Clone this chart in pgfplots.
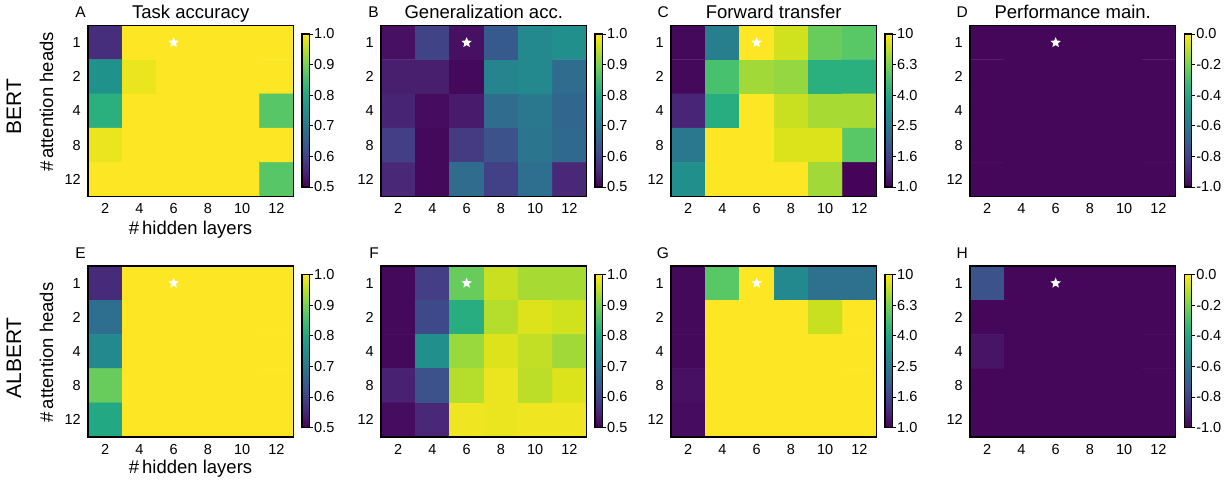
\documentclass[border=0pt]{standalone}
\usepackage{fontspec}
\setmainfont{Liberation Sans}
\usepackage{pgfplots}
\pgfplotsset{compat=1.18}
\usepackage{pgfplotstable}

\pgfdeclareplotmark{fstar}{%
  \pgfpathmoveto{\pgfpointpolar{90}{\pgfplotmarksize}}%
  \pgfpathlineto{\pgfpointpolar{126}{0.45\pgfplotmarksize}}%
  \pgfpathlineto{\pgfpointpolar{162}{\pgfplotmarksize}}%
  \pgfpathlineto{\pgfpointpolar{198}{0.45\pgfplotmarksize}}%
  \pgfpathlineto{\pgfpointpolar{234}{\pgfplotmarksize}}%
  \pgfpathlineto{\pgfpointpolar{270}{0.45\pgfplotmarksize}}%
  \pgfpathlineto{\pgfpointpolar{306}{\pgfplotmarksize}}%
  \pgfpathlineto{\pgfpointpolar{342}{0.45\pgfplotmarksize}}%
  \pgfpathlineto{\pgfpointpolar{18}{\pgfplotmarksize}}%
  \pgfpathlineto{\pgfpointpolar{54}{0.45\pgfplotmarksize}}%
  \pgfpathclose\pgfusepathqfill}

% heads 1,2,4,8,12 -> y = 0..4 ; hidden layers 2..12
\pgfplotstableread{
x y c
2 0 0.565
4 0 1
6 0 1
8 0 1
10 0 1
12 0 1
2 1 0.755
4 1 0.985
6 1 1
8 1 1
10 1 1
12 1 1
2 2 0.815
4 2 1
6 2 1
8 2 1
10 2 1
12 2 0.868
2 3 0.985
4 3 1
6 3 1
8 3 1
10 3 1
12 3 1
2 4 1
4 4 1
6 4 1
8 4 1
10 4 1
12 4 0.868
}\tA
\pgfplotstableread{
x y c
2 0 0.52
4 0 0.60
6 0 0.52
8 0 0.64
10 0 0.735
12 0 0.75
2 1 0.54
4 1 0.54
6 1 0.51
8 1 0.725
10 1 0.735
12 1 0.675
2 2 0.55
4 2 0.515
6 2 0.535
8 2 0.675
10 2 0.70
12 2 0.665
2 3 0.59
4 3 0.51
6 3 0.585
8 3 0.625
10 3 0.695
12 3 0.67
2 4 0.555
4 4 0.51
6 4 0.675
8 4 0.595
10 4 0.68
12 4 0.555
}\tB
\pgfplotstableread{
x y c
2 0 1.05
4 0 2.69
6 0 10
8 0 8.51
10 0 5.89
12 0 5.50
2 1 1.05
4 1 5.13
6 1 7.24
8 1 6.92
10 1 4.27
12 1 4.27
2 2 1.26
4 2 4.17
6 2 10
8 2 8.32
10 2 7.41
12 2 7.41
2 3 2.51
4 3 10
6 3 10
8 3 8.91
10 3 8.91
12 3 5.50
2 4 3.16
4 4 10
6 4 10
8 4 10
10 4 7.24
12 4 1.02
}\tC
\pgfplotstableread{
x y c
2 0 -0.985
4 0 -0.985
6 0 -0.985
8 0 -0.985
10 0 -0.985
12 0 -0.985
2 1 -0.985
4 1 -0.985
6 1 -0.985
8 1 -0.985
10 1 -0.985
12 1 -0.985
2 2 -0.985
4 2 -0.985
6 2 -0.985
8 2 -0.985
10 2 -0.985
12 2 -0.985
2 3 -0.985
4 3 -0.985
6 3 -0.985
8 3 -0.985
10 3 -0.985
12 3 -0.985
2 4 -0.985
4 4 -0.985
6 4 -0.985
8 4 -0.985
10 4 -0.985
12 4 -0.985
}\tD
\pgfplotstableread{
x y c
2 0 0.56
4 0 1
6 0 1
8 0 1
10 0 1
12 0 1
2 1 0.68
4 1 1
6 1 1
8 1 1
10 1 1
12 1 1
2 2 0.735
4 2 1
6 2 1
8 2 1
10 2 1
12 2 1
2 3 0.885
4 3 1
6 3 1
8 3 1
10 3 1
12 3 1
2 4 0.80
4 4 1
6 4 1
8 4 1
10 4 1
12 4 1
}\tE
\pgfplotstableread{
x y c
2 0 0.51
4 0 0.59
6 0 0.885
8 0 0.96
10 0 0.935
12 0 0.935
2 1 0.51
4 1 0.61
6 1 0.81
8 1 0.945
10 1 0.975
12 1 0.965
2 2 0.51
4 2 0.75
6 2 0.925
8 2 0.975
10 2 0.955
12 2 0.93
2 3 0.545
4 3 0.625
6 3 0.945
8 3 0.985
10 3 0.95
12 3 0.975
2 4 0.515
4 4 0.555
6 4 0.99
8 4 0.985
10 4 0.99
12 4 0.99
}\tF
\pgfplotstableread{
x y c
2 0 1.05
4 0 5.50
6 0 10
8 0 2.95
10 0 2.34
12 0 2.34
2 1 1.05
4 1 10
6 1 10
8 1 10
10 1 8.32
12 1 10
2 2 1.05
4 2 10
6 2 10
8 2 10
10 2 10
12 2 10
2 3 1.10
4 3 10
6 3 10
8 3 10
10 3 10
12 3 10
2 4 1.07
4 4 10
6 4 10
8 4 10
10 4 10
12 4 10
}\tG
\pgfplotstableread{
x y c
2 0 -0.75
4 0 -0.985
6 0 -0.985
8 0 -0.985
10 0 -0.985
12 0 -0.985
2 1 -0.985
4 1 -0.985
6 1 -0.985
8 1 -0.985
10 1 -0.985
12 1 -0.985
2 2 -0.95
4 2 -0.985
6 2 -0.985
8 2 -0.985
10 2 -0.985
12 2 -0.985
2 3 -0.985
4 3 -0.985
6 3 -0.985
8 3 -0.985
10 3 -0.985
12 3 -0.985
2 4 -0.985
4 4 -0.985
6 4 -0.985
8 4 -0.985
10 4 -0.985
12 4 -0.985
}\tH

\pgfplotsset{
  hm/.style={
    anchor=south west,
    scale only axis, width=205.5pt, height=171pt,
    xmin=1, xmax=13, ymin=-0.5, ymax=4.5, y dir=reverse,
    xtick={2,4,...,12}, ytick={0,1,2,3,4}, yticklabels={1,2,4,8,12},
    major tick length=0pt,
    clip=false,
    /pgf/number format/assume math mode=true,
    tick label style={font=\fontsize{14.5}{16}\selectfont},
    xticklabel style={anchor=base, inner sep=0pt, yshift=-17pt},
    yticklabel style={anchor=east, inner sep=0pt, xshift=-7pt},
    axis line style={line width=1.3pt, black},
    axis on top,
    colormap/viridis,
    title style={font=\fontsize{18.5}{21}\selectfont, at={(0.5,1)}, anchor=base, yshift=1pt, inner sep=0pt},
    colorbar,
    colorbar style={
      scale only axis, width=7.5pt, height=153pt,
      at={(parent axis.east)}, anchor=west, xshift=0pt, yshift=0.5pt,
      ytick pos=right, tick align=outside, major tick length=3.5pt,
      tick label style={font=\fontsize{14.5}{16}\selectfont},
      yticklabel style={font=\fontsize{14.5}{16}\selectfont, inner sep=0pt, xshift=1pt, anchor=west},
      axis line style={line width=1.1pt, black},
      tick style={black, line width=0.8pt},
    },
  },
  acc/.style={point meta min=0.5, point meta max=1,
    colorbar style={ytick={0.5,0.6,0.7,0.8,0.9,1.0}, yticklabels={0.5,0.6,0.7,0.8,0.9,1.0}}},
  ft/.style={point meta min=0, point meta max=1,
    colorbar style={ytick={0,0.2,0.4,0.6,0.8,1}, yticklabels={1.0,1.6,2.5,4.0,6.3,10}}},
  pm/.style={point meta min=-1, point meta max=0,
    colorbar style={ytick={-1,-0.8,-0.6,-0.4,-0.2,0}, yticklabels={-1.0,-0.8,-0.6,-0.4,-0.2,0.0}}},
  starplot/.style={only marks, mark=fstar, mark size=5.5pt, white, draw=none},
}
\tikzset{letter/.style={anchor=base east, font=\fontsize{15.5}{17}\selectfont, inner sep=0pt, xshift=-2pt, yshift=8pt}}

\begin{document}
\begin{tikzpicture}
\useasboundingbox (0,0) rectangle (1231pt,482pt);
% ---- row 1 : BERT
\begin{axis}[hm, acc, at={(88pt,285.5pt)}, title={Task accuracy}]
\addplot[matrix plot*, mesh/cols=6, point meta=explicit] table[meta=c]{\tA};
\addplot[starplot] coordinates {(6,0)};
\node[letter] at (axis description cs:0,1) {A};
\end{axis}
\begin{axis}[hm, acc, at={(381pt,285.5pt)}, title={Generalization acc.}]
\addplot[matrix plot*, mesh/cols=6, point meta=explicit] table[meta=c]{\tB};
\addplot[starplot] coordinates {(6,0)};
\node[letter] at (axis description cs:0,1) {B};
\end{axis}
\begin{axis}[hm, ft, at={(671pt,285.5pt)}, title={Forward transfer}]
\addplot[matrix plot*, mesh/cols=6, point meta={log10(\thisrow{c})}] table{\tC};
\addplot[starplot] coordinates {(6,0)};
\node[letter] at (axis description cs:0,1) {C};
\end{axis}
\begin{axis}[hm, pm, at={(970pt,285.5pt)}, title={Performance main.}]
\addplot[matrix plot*, mesh/cols=6, point meta=explicit] table[meta=c]{\tD};
\addplot[starplot] coordinates {(6,0)};
\node[letter] at (axis description cs:0,1) {D};
\end{axis}
% ---- row 2 : ALBERT
\begin{axis}[hm, acc, at={(88pt,45pt)}]
\addplot[matrix plot*, mesh/cols=6, point meta=explicit] table[meta=c]{\tE};
\addplot[starplot] coordinates {(6,0)};
\node[letter] at (axis description cs:0,1) {E};
\end{axis}
\begin{axis}[hm, acc, at={(381pt,45pt)}]
\addplot[matrix plot*, mesh/cols=6, point meta=explicit] table[meta=c]{\tF};
\addplot[starplot] coordinates {(6,0)};
\node[letter] at (axis description cs:0,1) {F};
\end{axis}
\begin{axis}[hm, ft, at={(671pt,45pt)}]
\addplot[matrix plot*, mesh/cols=6, point meta={log10(\thisrow{c})}] table{\tG};
\addplot[starplot] coordinates {(6,0)};
\node[letter] at (axis description cs:0,1) {G};
\end{axis}
\begin{axis}[hm, pm, at={(970pt,45pt)}]
\addplot[matrix plot*, mesh/cols=6, point meta=explicit] table[meta=c]{\tH};
\addplot[starplot] coordinates {(6,0)};
\node[letter] at (axis description cs:0,1) {H};
\end{axis}
% ---- outer labels
\node[rotate=90, font=\fontsize{18.5}{21}\selectfont] at (46.5pt,380pt) {\#\,attention heads};
\node[rotate=90, font=\fontsize{18.5}{21}\selectfont] at (46.5pt,129.5pt) {\#\,attention heads};
\node[anchor=base, font=\fontsize{18.5}{21}\selectfont] at (190.5pt,247pt) {\#\,hidden layers};
\node[anchor=base, font=\fontsize{18.5}{21}\selectfont] at (190.5pt,9pt) {\#\,hidden layers};
\node[rotate=90, font=\fontsize{21}{24}\selectfont] at (14pt,375.5pt) {BERT};
\node[rotate=90, font=\fontsize{21}{24}\selectfont] at (14pt,124pt) {ALBERT};
\end{tikzpicture}
\end{document}
